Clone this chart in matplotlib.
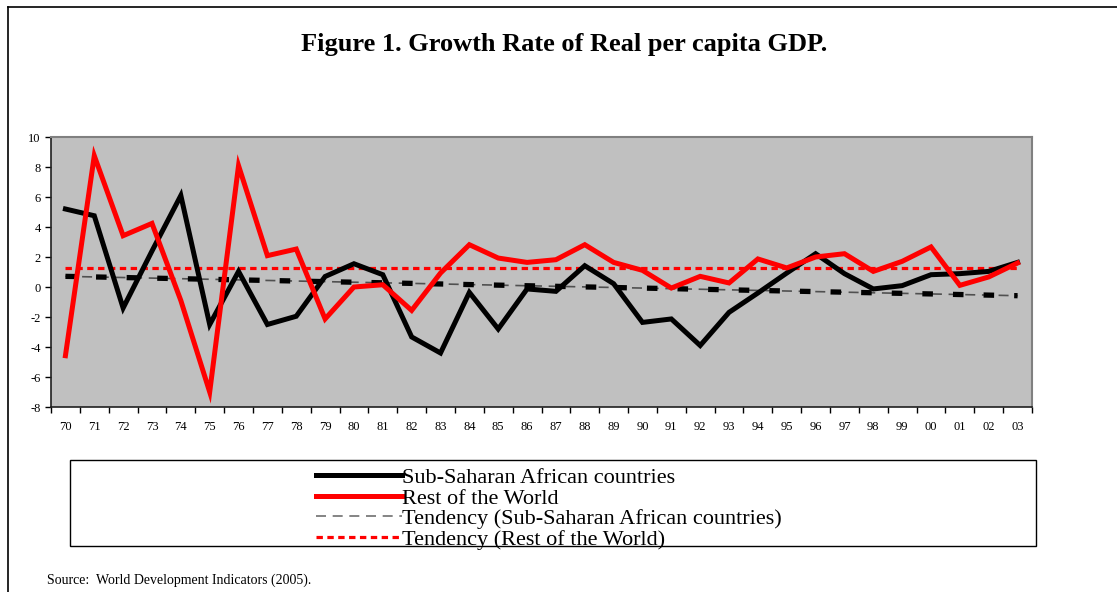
import numpy as np
import matplotlib
matplotlib.use("Agg")
from matplotlib import pyplot as plt
from matplotlib.lines import Line2D
from matplotlib.patches import Rectangle

years = ['70','71','72','73','74','75','76','77','78','79','80','81','82','83','84','85','86',
         '87','88','89','90','91','92','93','94','95','96','97','98','99','00','01','02','03']

ssa = [5.2, 4.75, -1.4, 2.4, 6.1, -2.5, 1.04, -2.5, -1.95, 0.7, 1.55, 0.82, -3.33, -4.4, -0.36, -2.8, -0.13,
       -0.29, 1.42, 0.22, -2.36, -2.13, -3.9, -1.69, -0.4, 0.93, 2.22, 0.89, -0.13, 0.09, 0.82, 0.89, 1.04, 1.64]

row = [-4.58, 8.75, 3.42, 4.24, -0.9, -7.0, 8.09, 2.09, 2.53, -2.13, 0.0, 0.15, -1.56, 0.93, 2.82, 1.93, 1.64,
       1.82, 2.82, 1.64, 1.11, -0.07, 0.71, 0.27, 1.87, 1.27, 2.0, 2.22, 1.04, 1.71, 2.67, 0.11, 0.67, 1.6]

# tendency lines (start, end values)
trend_ssa = [0.71, -0.58]
trend_row = [1.3, 1.3]

plt.rcParams['font.family'] = ['Liberation Serif', 'DejaVu Serif']
plt.rcParams['axes.unicode_minus'] = False

fig = plt.figure(figsize=(11.17, 5.92), dpi=100)
ax = fig.add_axes([51/1117, 1 - 407/592, (1032 - 51)/1117, 270/592])
ax.set_facecolor('#c0c0c0')

x = np.arange(len(years))
xt = [x[0], x[-1]]

ax.plot(xt, trend_ssa, color='#505050', linewidth=1.2, dashes=(6, 4))
ax.plot(xt, trend_ssa, color='black', linewidth=3.8, dashes=(2.0, 3.8))
ax.plot(xt, trend_row, color='red', linewidth=2.3, dashes=(2.0, 1.4))
ax.plot(x, ssa, color='black', linewidth=3.6, solid_joinstyle='miter')
ax.plot(x, row, color='red', linewidth=3.6, solid_joinstyle='miter')

ax.set_xlim(-0.5, len(years) - 0.5)
ax.set_ylim(-8, 10)
ax.set_yticks(range(-8, 11, 2))
ax.set_xticks(x)
ax.set_xticklabels(years)
ax.set_xticks(np.arange(-0.5, len(years), 1), minor=True)
ax.tick_params(axis='x', which='major', length=0, labelsize=9, pad=10)
ax.tick_params(axis='x', which='minor', length=4, direction='out', width=1)
ax.tick_params(axis='y', length=4, direction='out', labelsize=9, width=1)

for s in ['top', 'right']:
    ax.spines[s].set_color('#808080')
    ax.spines[s].set_linewidth(1.5)
for s in ['left', 'bottom']:
    ax.spines[s].set_color('#202020')
    ax.spines[s].set_linewidth(1.2)

fig.text(564/1117, 1 - 45/592, 'Figure 1. Growth Rate of Real per capita GDP.',
         ha='center', va='center', fontsize=19, fontweight='bold')

# legend box
fig.patches.append(Rectangle((70/1117, 1 - 546/592), (1036 - 70)/1117, (546 - 460)/592,
                             transform=fig.transFigure, facecolor='white', edgecolor='black',
                             linewidth=1))

handles = [
    Line2D([], [], color='black', linewidth=3.6),
    Line2D([], [], color='red', linewidth=3.6),
    Line2D([], [], color='#707070', linewidth=1.2, dashes=(6, 4)),
    Line2D([], [], color='red', linewidth=2.3, dashes=(2.0, 1.4)),
]
labels = ['Sub-Saharan African countries', 'Rest of the World',
          'Tendency (Sub-Saharan African countries)', 'Tendency (Rest of the World)']
fig.legend(handles, labels, loc='upper left', bbox_to_anchor=(300/1117, 1 - 452/592),
           frameon=False, fontsize=16, handlelength=3.9, handletextpad=0.0,
           labelspacing=0.0, borderpad=0.2)

# outer frame lines
fig.add_artist(Line2D([7.5/1117, 7.5/1117], [0, 1 - 6.5/592], color='black', linewidth=1.2,
                      transform=fig.transFigure))
fig.add_artist(Line2D([7.5/1117, 1], [1 - 6.5/592, 1 - 6.5/592], color='black', linewidth=1.2,
                      transform=fig.transFigure))

fig.text(47/1117, 1 - 580/592, 'Source:  World Development Indicators (2005).', fontsize=10,
         va='center')

fig.savefig('out.png', dpi=100)
